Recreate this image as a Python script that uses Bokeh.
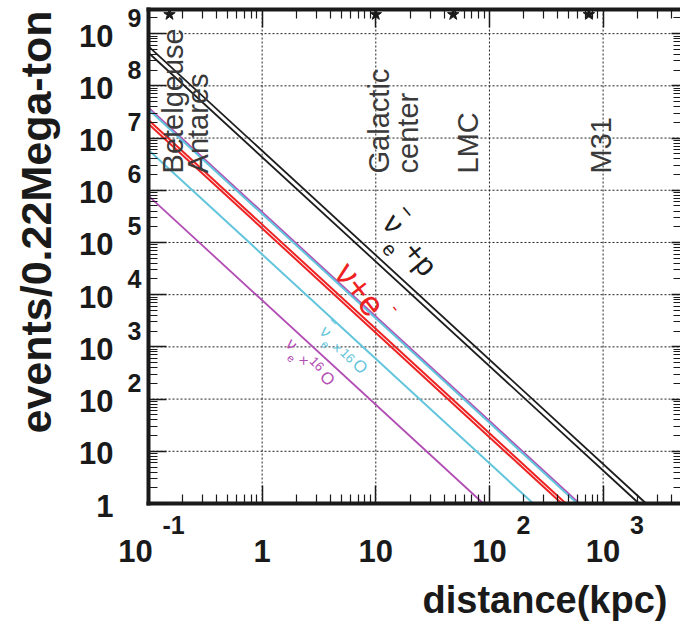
import math
from bokeh.plotting import figure
from bokeh.models import Range1d, LogAxis, FixedTicker, Label, CustomJSTickFormatter
from bokeh.embed import file_html
from bokeh.resources import INLINE

# ---- expected events per 0.22 Mton versus supernova distance (kpc) ----
# Every channel falls off as 1/d^2, a straight line on log-log axes, so each
# curve is kept as its two end points: the count at 100 pc and the distance
# at which it drops to a single event.
ibd_inner_d = [0.1, 2070.0]
ibd_inner_n = [4.3e8, 1.0]
ibd_outer_d = [0.1, 2390.0]
ibd_outer_n = [5.7e8, 1.0]
es_inner_d = [0.1, 432.0]
es_inner_n = [1.86e7, 1.0]
es_outer_d = [0.1, 470.0]
es_outer_n = [2.21e7, 1.0]
nue_o16_high_d = [0.1, 617.0]
nue_o16_high_n = [3.8e7, 1.0]
nuebar_o16_high_d = [0.1, 593.0]
nuebar_o16_high_n = [3.52e7, 1.0]
nuebar_o16_low_d = [0.1, 243.0]
nuebar_o16_low_n = [5.92e6, 1.0]
nue_o16_low_d = [0.1, 88.3]
nue_o16_low_n = [7.8e5, 1.0]

# candidate sources marked on the top axis (kpc)
star_dist = [0.153, 10.0, 48.0, 750.0]

# axis ticks and their labels
x_ticks = [0.1, 1.0, 10.0, 100.0, 1000.0]
x_tick_base = ["10", "1", "10", "10", "10"]
x_tick_exp = ["-1", "", "", "2", "3"]
y_ticks = [1.0, 1e1, 1e2, 1e3, 1e4, 1e5, 1e6, 1e7, 1e8, 1e9]
y_tick_base = ["1", "10", "10", "10", "10", "10", "10", "10", "10", "10"]
y_tick_exp = ["", "", "2", "3", "4", "5", "6", "7", "8", "9"]

# ---- layout ----
# The drawing area covers the whole canvas; the framed plot box sits inside
# it (its right edge just past the canvas), so tick labels and titles can be
# placed freely around the box.
W, H = 680, 626
BOX_L, BOX_T, BOX_B = 148, 9, 503     # box edges in canvas pixels
X_MIN, X_MAX = 0.1, 5000.0
Y_MIN, Y_MAX = 1.0, 2.9e9
LX0, LX1 = math.log10(X_MIN), math.log10(X_MAX)
LY0, LY1 = math.log10(Y_MIN), math.log10(Y_MAX)
PPX = 113.65                           # pixels per decade
PPY = (BOX_B - BOX_T) / (LY1 - LY0)
XC0 = 10 ** (LX0 - BOX_L / PPX)
XC1 = 10 ** (LX0 + (W - BOX_L) / PPX)
YC0 = 10 ** (LY0 - (H - BOX_B) / PPY)
YC1 = 10 ** (LY1 + BOX_T / PPY)
FONT = "Liberation Sans"
INK = "#1a1a1a"
MID = 0.35   # em fraction from baseline to the text's vertical middle


def shifted(d, n, dx, dy):
    """Data point moved by (dx, dy) screen pixels (dy upwards)."""
    return d * 10 ** (dx / PPX), n * 10 ** (dy / PPY)


p = figure(width=W, height=H, output_backend="svg", toolbar_location=None,
           x_axis_type="log", y_axis_type="log",
           x_range=Range1d(XC0, XC1), y_range=Range1d(YC0, YC1),
           min_border=0, min_border_left=0, min_border_right=0,
           min_border_top=0, min_border_bottom=0)
p.background_fill_color = "white"
p.border_fill_color = "white"
p.outline_line_color = None
p.xgrid.visible = False
p.ygrid.visible = False

x_minor = [k * 10.0 ** e for e in range(-1, 4) for k in range(2, 10) if k * 10.0 ** e < X_MAX]
y_minor = [k * 10.0 ** e for e in range(0, 10) for k in range(2, 10) if k * 10.0 ** e < Y_MAX]
blank = CustomJSTickFormatter(code="return ''")


def style_axis(ax, ticks, minor, loc, bounds, major_in=18, minor_in=9):
    ax.fixed_location = loc
    ax.bounds = bounds
    ax.ticker = FixedTicker(ticks=ticks, minor_ticks=minor)
    ax.formatter = blank
    ax.axis_line_width = 4
    ax.axis_line_color = INK
    ax.axis_line_cap = "square"
    ax.major_tick_in = major_in
    ax.major_tick_out = 0
    ax.minor_tick_in = minor_in
    ax.minor_tick_out = 0
    ax.major_tick_line_width = 1.5
    ax.minor_tick_line_width = 1.2
    ax.major_tick_line_color = INK
    ax.minor_tick_line_color = INK
    ax.major_label_standoff = 0


style_axis(p.xaxis[0], x_ticks, x_minor, Y_MIN, (X_MIN, X_MAX))
style_axis(p.yaxis[0], y_ticks, y_minor, X_MIN, (Y_MIN, Y_MAX))
top_axis = LogAxis()
right_axis = LogAxis()
style_axis(top_axis, x_ticks, x_minor, Y_MAX, (X_MIN, X_MAX))
style_axis(right_axis, y_ticks, y_minor, X_MAX, (Y_MIN, Y_MAX), major_in=11)
p.add_layout(top_axis, "above")
p.add_layout(right_axis, "right")

# dashed grid at every decade, kept inside the box
gx = x_ticks[1:]
gy = y_ticks[1:]
p.segment(x0=gx, y0=[Y_MIN] * len(gx), x1=gx, y1=[Y_MAX] * len(gx),
          line_color="#222222", line_dash="2 2", line_width=1)
p.segment(x0=[X_MIN] * len(gy), y0=gy, x1=[X_MAX] * len(gy), y1=gy,
          line_color="#222222", line_dash="2 2", line_width=1)

# ---- curves ----
BLACK, RED, CYAN, PURPLE = "#1c1c1c", "#ee2222", "#62c5dc", "#b24db4"
curves = [
    (ibd_inner_d, ibd_inner_n, BLACK, 1.8),
    (ibd_outer_d, ibd_outer_n, BLACK, 1.8),
    (nue_o16_high_d, nue_o16_high_n, PURPLE, 2.0),
    (nuebar_o16_high_d, nuebar_o16_high_n, CYAN, 2.0),
    (es_inner_d, es_inner_n, RED, 2.0),
    (es_outer_d, es_outer_n, RED, 2.0),
    (nuebar_o16_low_d, nuebar_o16_low_n, CYAN, 2.0),
    (nue_o16_low_d, nue_o16_low_n, PURPLE, 1.8),
]
for d, n, col, w in curves:
    p.line(d, n, line_color=col, line_width=w)

# source markers sit just under the top edge
star_y = shifted(X_MIN, Y_MAX, 0, -5)[1]
p.scatter(star_dist, [star_y] * len(star_dist), marker="star", size=12,
          fill_color=INK, line_color=INK)


def add_text(x, y, text, size, color, align="left", angle=0.0, bold=False):
    p.add_layout(Label(x=x, y=y, text=text, text_font=FONT,
                       text_font_size=f"{size}px",
                       text_font_style="bold" if bold else "normal",
                       text_color=color, text_align=align,
                       text_baseline="middle", angle=angle))


def add_rotated(anchor_d, anchor_n, theta_deg, pieces, color):
    """Pieces are (text, size, along, up): baseline-left offsets in pixels."""
    t = math.radians(theta_deg)
    ux, uy = math.cos(t), -math.sin(t)
    nx, ny = math.sin(t), math.cos(t)
    for text, size, along, up in pieces:
        up = up + MID * size
        x, y = shifted(anchor_d, anchor_n, along * ux + up * nx, along * uy + up * ny)
        add_text(x, y, text, size, color, angle=-t)


# reaction labels laid along the curves
add_rotated(11.1, 2.2e5, 50, [("ν", 30, 0, 0), ("−", 22, 0.1, 20.8),
                              ("e", 20, 19.1, -15.8), ("+p", 30, 34.3, -1.9)], BLACK)
add_rotated(4.2, 2.5e4, 52, [("ν+e", 35, 0, 0), ("-", 18, 62.5, 22.8)], RED)
add_rotated(3.12, 1838, 45, [("ν", 17, 0, 0), ("−", 14, -1.6, 13.9), ("e", 11, 10.0, -6.6),
                             ("×", 15, 19.5, -2.2), ("16", 13, 29.5, 0.4),
                             ("O", 17, 46.7, -0.1)], CYAN)
add_rotated(1.568, 1059, 45, [("ν", 17, 0, 0), ("e", 11, 10.6, -7.9),
                              ("×", 15, 19.85, -1.8), ("16", 13, 28.85, 5.6),
                              ("O", 17, 47.05, 1.1)], PURPLE)

# source names, written upwards
for name, d in [("Betelgeuse", 0.163), ("Antares", 0.271), ("Galactic", 10.6),
                ("center", 19.1), ("LMC", 64.5), ("M31", 955.0)]:
    add_text(d, 2.1e6, name, 29, "#3a3a3a", angle=math.pi / 2)

# tick labels in 10^n form
for v, base, ex in zip(y_ticks, y_tick_base, y_tick_exp):
    x, y = shifted(X_MIN, v, -35, -2)
    add_text(x, y, base, 31, INK, align="right", bold=True)
    if ex:
        x, y = shifted(X_MIN, v, -21, 16)
        add_text(x, y, ex, 25, INK, bold=True)

for v, base, ex, dx in zip(x_ticks, x_tick_base, x_tick_exp, [-13, 0, 0, 0, 0]):
    x, y = shifted(v, Y_MIN, dx, -47)
    add_text(x, y, base, 31, INK, align="center", bold=True)
    if ex:
        x, y = shifted(v, Y_MIN, dx + 27, -21)
        add_text(x, y, ex, 25, INK, bold=True)

# axis titles (baseline of the y title at x = 51, of the x title at y = 613)
x, y = shifted(X_MIN, Y_MIN, 51 - MID * 43 - BOX_L, 281.5)
add_text(x, y, "events/0.22Mega-ton", 43, INK, align="center", angle=math.pi / 2, bold=True)
x, y = shifted(X_MIN, Y_MIN, 667 - BOX_L, BOX_B - 613 + MID * 38)
add_text(x, y, "distance(kpc)", 38, INK, align="right", bold=True)

open("out.html", "w").write(file_html(p, INLINE))
